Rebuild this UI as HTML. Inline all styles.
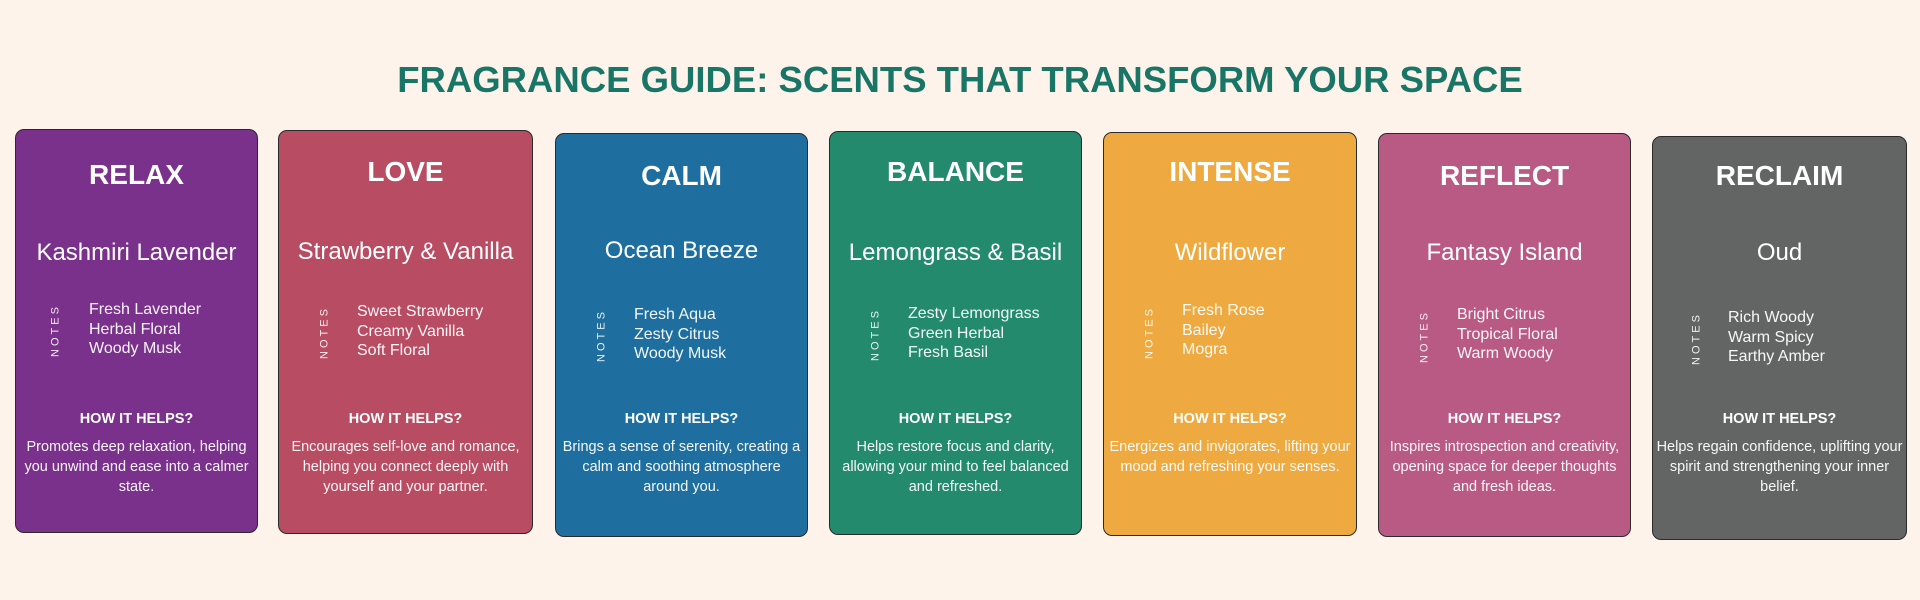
<!DOCTYPE html>
<html><head><meta charset="utf-8"><style>
body{margin:0;width:1920px;height:600px;background:#fdf3ea;font-family:"Liberation Sans",sans-serif;position:relative;overflow:hidden}
h1{position:absolute;top:58px;left:0;width:1920px;margin:0;text-align:center;font-size:36.5px;font-weight:bold;color:#197667;line-height:44px}
.c{position:absolute;width:254px;height:404px;border:1.5px solid #2a2a2a;border-radius:9px;box-sizing:border-box;color:#fff}
.c>div{position:absolute;left:0;width:100%;text-align:center;white-space:nowrap}
.c>.t{font-size:28px;font-weight:bold;line-height:34px}
.c>.s{font-size:24px;line-height:30px}
.c>.n{font-size:16px;line-height:19.5px;text-align:left;left:78px;width:auto;opacity:.95}
.c>.v{font-size:11px;letter-spacing:3px;transform:rotate(-90deg);transform-origin:center;width:60px;left:16px;text-align:center;opacity:.9;line-height:13px}
.c>.h{font-size:14.5px;font-weight:bold;line-height:18px}
.c>.d{font-size:14.5px;line-height:20px;opacity:.95}
</style></head><body>
<h1>FRAGRANCE GUIDE: SCENTS THAT TRANSFORM YOUR SPACE</h1>

<div class="c" style="left:15px;top:129px;width:243px;background:#7a318b">
<div class="t" style="top:28px">RELAX</div>
<div class="s" style="top:108px">Kashmiri Lavender</div>
<div class="v" style="left:10px;top:194px">NOTES</div>
<div class="n" style="left:73px;top:170px">Fresh Lavender<br>Herbal Floral<br>Woody Musk</div>
<div class="h" style="top:280px">HOW IT HELPS?</div>
<div class="d" style="top:307px">Promotes deep relaxation, helping<br>you unwind and ease into a calmer<br>state.</div>
</div>

<div class="c" style="left:278px;top:130px;width:255px;background:#b84c62">
<div class="t" style="top:24px">LOVE</div>
<div class="s" style="top:106px">Strawberry &amp; Vanilla</div>
<div class="v" style="top:195px">NOTES</div>
<div class="n" style="top:171px">Sweet Strawberry<br>Creamy Vanilla<br>Soft Floral</div>
<div class="h" style="top:279px">HOW IT HELPS?</div>
<div class="d" style="top:306px">Encourages self-love and romance,<br>helping you connect deeply with<br>yourself and your partner.</div>
</div>

<div class="c" style="left:555px;top:133px;width:253px;background:#1e6f9f">
<div class="t" style="top:25px">CALM</div>
<div class="s" style="top:102px">Ocean Breeze</div>
<div class="v" style="top:195px">NOTES</div>
<div class="n" style="top:171px">Fresh Aqua<br>Zesty Citrus<br>Woody Musk</div>
<div class="h" style="top:276px">HOW IT HELPS?</div>
<div class="d" style="top:303px">Brings a sense of serenity, creating a<br>calm and soothing atmosphere<br>around you.</div>
</div>

<div class="c" style="left:829px;top:131px;width:253px;background:#238a6e">
<div class="t" style="top:23px">BALANCE</div>
<div class="s" style="top:106px">Lemongrass &amp; Basil</div>
<div class="v" style="top:196px">NOTES</div>
<div class="n" style="top:172px">Zesty Lemongrass<br>Green Herbal<br>Fresh Basil</div>
<div class="h" style="top:278px">HOW IT HELPS?</div>
<div class="d" style="top:305px">Helps restore focus and clarity,<br>allowing your mind to feel balanced<br>and refreshed.</div>
</div>

<div class="c" style="left:1103px;top:132px;width:254px;background:#eeaa40">
<div class="t" style="top:22px">INTENSE</div>
<div class="s" style="top:105px">Wildflower</div>
<div class="v" style="top:193px">NOTES</div>
<div class="n" style="top:168px">Fresh Rose<br>Bailey<br>Mogra</div>
<div class="h" style="top:277px">HOW IT HELPS?</div>
<div class="d" style="top:304px">Energizes and invigorates, lifting your<br>mood and refreshing your senses.</div>
</div>

<div class="c" style="left:1378px;top:133px;width:253px;background:#b95a84">
<div class="t" style="top:25px">REFLECT</div>
<div class="s" style="top:104px">Fantasy Island</div>
<div class="v" style="top:196px">NOTES</div>
<div class="n" style="top:171px">Bright Citrus<br>Tropical Floral<br>Warm Woody</div>
<div class="h" style="top:276px">HOW IT HELPS?</div>
<div class="d" style="top:303px">Inspires introspection and creativity,<br>opening space for deeper thoughts<br>and fresh ideas.</div>
</div>

<div class="c" style="left:1652px;top:136px;width:255px;background:#636565">
<div class="t" style="top:22px">RECLAIM</div>
<div class="s" style="top:101px">Oud</div>
<div class="v" style="left:14px;top:195px">NOTES</div>
<div class="n" style="left:75px;top:171px">Rich Woody<br>Warm Spicy<br>Earthy Amber</div>
<div class="h" style="top:273px">HOW IT HELPS?</div>
<div class="d" style="top:300px">Helps regain confidence, uplifting your<br>spirit and strengthening your inner<br>belief.</div>
</div>
</body></html>
